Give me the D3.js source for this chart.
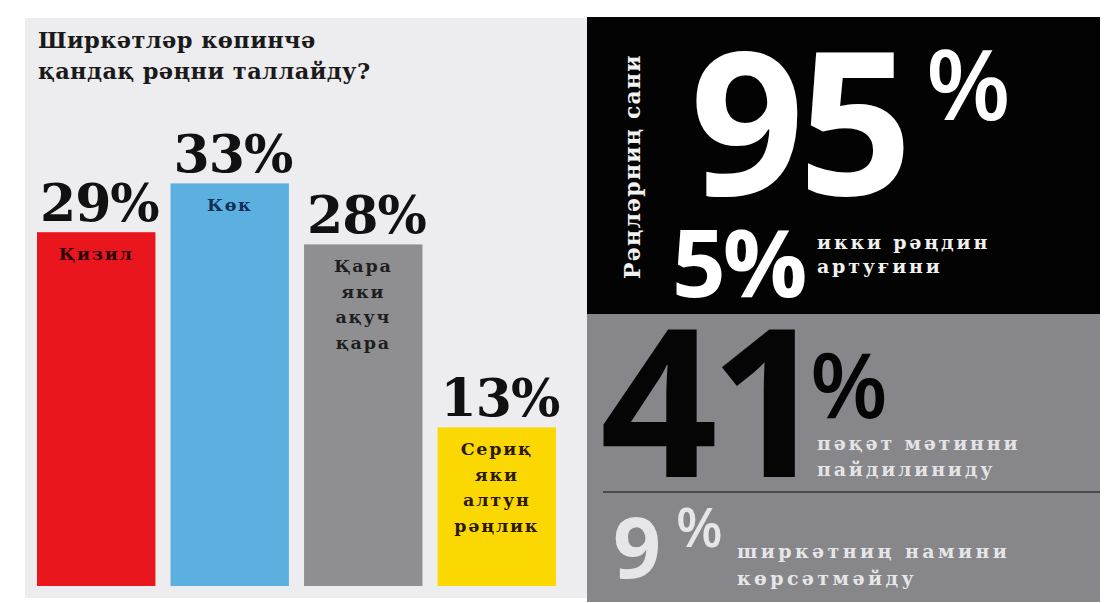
<!DOCTYPE html>
<html>
<head>
<meta charset="utf-8">
<script src="https://cdn.jsdelivr.net/npm/d3@7"></script>
<style>
  body { margin: 0; background: #fff; }
  svg { display: block; }
</style>
</head>
<body>
<svg id="chart" width="1106" height="603"></svg>
<script>
// bar data
var categories = ["Қизил", "Көк", "Қара яки ақуч қара", "Сериқ яки алтун рәңлик"];
var values = [29, 33, 28, 13];
var barColors = ["#e9161d", "#5cb0e0", "#8f8f91", "#fcd803"];
var barLabelLines = [["Қизил"], ["Көк"], ["Қара", "яки", "ақуч", "қара"], ["Сериқ", "яки", "алтун", "рәңлик"]];
var labelColors = ["#2a0505", "#12305a", "#1e1e1e", "#2a1a00"];
var titleLines = ["Ширкәтләр көпинчә", "қандақ рәңни таллайду?"];

// right side stats
var colorCountTitle = "Рәңләрниң сани";
var colorCountValues = [95, 5];
var colorCountCaption = ["икки рәңдин", "артуғини"];
var textOnlyValue = 41;
var textOnlyCaption = ["пәқәт мәтинни", "пайдилиниду"];
var noNameValue = 9;
var noNameCaption = ["ширкәтниң намини", "көрсәтмәйду"];

var svg = d3.select("#chart");
var serif = "'DejaVu Serif', serif";
var sans = "'Open Sans', 'Noto Sans', sans-serif";

// panels
svg.append("rect").attr("x", 25).attr("y", 18).attr("width", 562).attr("height", 580).attr("fill", "#ededef");
svg.append("rect").attr("x", 587).attr("y", 17).attr("width", 513).attr("height", 297).attr("fill", "#030303");
svg.append("rect").attr("x", 587).attr("y", 314).attr("width", 513).attr("height", 288).attr("fill", "#87878b");

// title
svg.append("g").selectAll("text")
    .data(titleLines)
    .enter().append("text")
    .attr("x", 38)
    .attr("y", function (d, i) { return 48 + i * 31; })
    .attr("font-family", serif)
    .attr("font-weight", "bold")
    .attr("font-size", 22.5)
    .attr("letter-spacing", 0.4)
    .attr("fill", "#1a1a1a")
    .text(function (d) { return d; });

var x = d3.scaleBand().domain(categories).range([37, 556]).paddingInner(0.113).paddingOuter(0);
var y = d3.scaleLinear().domain([0, 40]).range([586, 98]);

var bars = svg.append("g").selectAll("g")
    .data(categories)
    .enter().append("g");

bars.append("rect")
    .attr("x", function (d) { return x(d); })
    .attr("y", function (d, i) { return y(values[i]); })
    .attr("width", x.bandwidth())
    .attr("height", function (d, i) { return y(0) - y(values[i]); })
    .attr("fill", function (d, i) { return barColors[i]; });

bars.append("text")
    .attr("x", function (d) { return x(d) + 3; })
    .attr("y", function (d, i) { return y(values[i]) - 11; })
    .attr("font-family", serif)
    .attr("font-weight", "bold")
    .attr("font-size", 52)
    .attr("letter-spacing", -1)
    .attr("fill", "#111")
    .text(function (d, i) { return values[i] + "%"; });

bars.each(function (d, i) {
    d3.select(this).selectAll(".lbl")
        .data(barLabelLines[i])
        .enter().append("text")
        .attr("class", "lbl")
        .attr("x", x(d) + x.bandwidth() / 2)
        .attr("y", function (t, j) { return y(values[i]) + 28 + j * 25.5; })
        .attr("text-anchor", "middle")
        .attr("font-family", serif)
        .attr("font-weight", "bold")
        .attr("font-size", 17.5)
        .attr("letter-spacing", 1.8)
        .attr("fill", labelColors[i])
        .text(function (t) { return t; });
});

// black panel: number of colours
svg.append("text")
    .attr("transform", "translate(640,279) rotate(-90)")
    .attr("font-family", serif)
    .attr("font-weight", "bold")
    .attr("font-size", 22)
    .attr("letter-spacing", 1.2)
    .attr("fill", "#f2f2f2")
    .text(colorCountTitle);

svg.append("text")
    .attr("x", 690).attr("y", 195)
    .attr("font-family", sans).attr("font-weight", 700)
    .attr("font-size", 200).attr("letter-spacing", -6)
    .attr("fill", "#fff")
    .text(colorCountValues[0]);
svg.append("text")
    .attr("x", 926).attr("y", 120)
    .attr("font-family", sans).attr("font-weight", 600)
    .attr("font-size", 98)
    .attr("fill", "#fff")
    .text("%");

svg.append("text")
    .attr("x", 672).attr("y", 297)
    .attr("font-family", sans).attr("font-weight", 700)
    .attr("font-size", 94).attr("letter-spacing", -3)
    .attr("fill", "#fff")
    .text(colorCountValues[1] + "%");

svg.append("g").selectAll("text")
    .data(colorCountCaption)
    .enter().append("text")
    .attr("x", 817)
    .attr("y", function (d, i) { return 249 + i * 24; })
    .attr("font-family", serif).attr("font-weight", "bold")
    .attr("font-size", 19).attr("letter-spacing", 2.8)
    .attr("fill", "#f0f0f0")
    .text(function (d) { return d; });

// gray panel: text only
svg.append("text")
    .attr("x", 600).attr("y", 477)
    .attr("font-family", sans).attr("font-weight", 700)
    .attr("font-size", 206).attr("letter-spacing", -8)
    .attr("fill", "#050505")
    .text(textOnlyValue);
svg.append("text")
    .attr("x", 810).attr("y", 418)
    .attr("font-family", sans).attr("font-weight", 600)
    .attr("font-size", 90)
    .attr("fill", "#050505")
    .text("%");

svg.append("g").selectAll("text")
    .data(textOnlyCaption)
    .enter().append("text")
    .attr("x", 817)
    .attr("y", function (d, i) { return 450 + i * 26; })
    .attr("font-family", serif).attr("font-weight", "bold")
    .attr("font-size", 19).attr("letter-spacing", 2.8)
    .attr("fill", "#e4e4e6")
    .text(function (d) { return d; });

svg.append("line")
    .attr("x1", 603).attr("x2", 1100)
    .attr("y1", 492).attr("y2", 492)
    .attr("stroke", "#4a4a4c").attr("stroke-width", 2);

// gray panel: no company name
svg.append("text")
    .attr("x", 613).attr("y", 578)
    .attr("font-family", sans).attr("font-weight", 700)
    .attr("font-size", 84)
    .attr("fill", "#e6e6e8")
    .text(noNameValue);
svg.append("text")
    .attr("x", 676).attr("y", 547)
    .attr("font-family", sans).attr("font-weight", 600)
    .attr("font-size", 54)
    .attr("fill", "#e6e6e8")
    .text("%");

svg.append("g").selectAll("text")
    .data(noNameCaption)
    .enter().append("text")
    .attr("x", 737)
    .attr("y", function (d, i) { return 558 + i * 27; })
    .attr("font-family", serif).attr("font-weight", "bold")
    .attr("font-size", 19).attr("letter-spacing", 3.4)
    .attr("fill", "#e6e6e8")
    .text(function (d) { return d; });
</script>
</body>
</html>
